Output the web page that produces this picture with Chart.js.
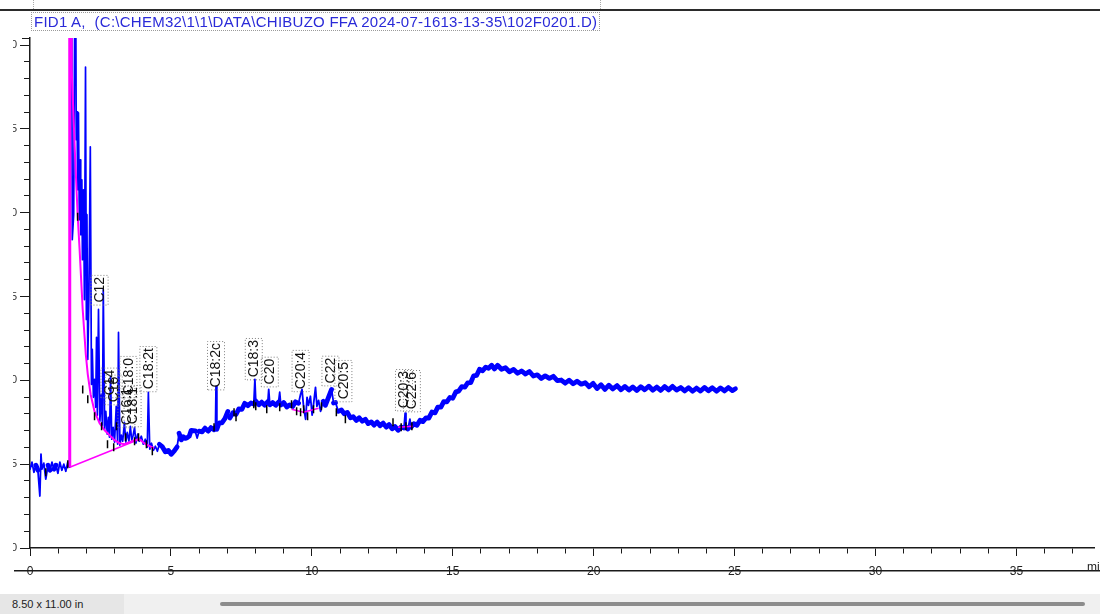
<!DOCTYPE html>
<html>
<head>
<meta charset="utf-8">
<script src="https://cdn.jsdelivr.net/npm/chart.js@4.4.1/dist/chart.umd.min.js"></script>
<style>
  html, body { margin: 0; padding: 0; background: #fff; width: 1100px; height: 614px; overflow: hidden;
    font-family: "Liberation Sans", Arial, sans-serif; }
  #plot { position: absolute; left: 0; top: 0; width: 1100px; height: 594px; }
  #leftMask { position: absolute; left: 0; top: 34px; width: 13px; height: 528px; background: #fff; z-index: 2; }
  #rule { position: absolute; left: 0; top: 9px; width: 1100px; height: 2px; background: #2b2b2b; z-index: 2; }
  .dotTick { position: absolute; top: 0; height: 9px; border-left: 1px dotted #aaa; z-index: 2; }
  #title { position: absolute; left: 31px; top: 12px; height: 17px; line-height: 17px; padding: 0 2px;
    border: 1px dotted #9a9a9a; font-size: 15px; letter-spacing: 0.25px; color: #2a2ad8; white-space: pre; z-index: 2; }
  #status { position: absolute; left: 0; top: 594px; width: 1100px; height: 20px; background: #f0f0f0; z-index: 2; }
  #paper { position: absolute; left: 0; top: 0; width: 124px; height: 20px; line-height: 20px; padding-left: 12px;
    box-sizing: border-box; background: #e6e6e6; font-size: 11px; color: #222; }
  #scroll { position: absolute; left: 220px; top: 8px; width: 865px; height: 4px; background: #8c8c8c; border-radius: 2px; }
</style>
</head>
<body>
<div id="plot"><canvas id="chrom"></canvas></div>
<div id="leftMask"></div>
<div id="rule"></div>
<div class="dotTick" style="left:33px"></div>
<div class="dotTick" style="left:600px"></div>
<div id="title">FID1 A,  (C:\CHEM32\1\1\DATA\CHIBUZO FFA 2024-07-1613-13-35\102F0201.D)</div>
<div id="status"><div id="paper">8.50 x 11.00 in</div><div id="scroll"></div></div>

<script>
// FID signal, [retention time (min), response]
const preSolvent = [
  [0.00,4.70],[0.07,5.12],[0.14,4.52],[0.21,4.94],[0.28,4.64],[0.35,3.10],[0.39,5.60],[0.42,4.70],
  [0.49,5.06],[0.56,4.11],[0.64,4.94],[0.71,4.64],[0.78,5.12],[0.85,4.70],[0.92,4.94],[0.99,4.46],
  [1.06,5.12],[1.13,4.64],[1.20,5.00],[1.27,4.58],[1.34,5.12],[1.38,4.88]
];
const solventCluster = [
  [1.41,4.82],[1.43,40],[1.47,40],[1.50,18.39],[1.55,19.88],[1.61,40],[1.64,24.35],[1.67,26.01],
  [1.69,21.37],[1.72,25.95],[1.75,19.58],[1.78,23.15],[1.80,18.69],[1.84,21.96],[1.86,17.20],[1.90,21.37],
  [1.93,14.82],[1.97,28.69],[2.00,13.63],[2.02,19.88],[2.05,11.25],[2.09,14.82],[2.14,23.93],[2.18,9.76],
  [2.21,11.85],[2.25,8.99],[2.29,10.06],[2.33,8.39],[2.36,12.56],[2.39,7.92],[2.43,14.23],[2.48,7.56],
  [2.53,9.17],[2.57,7.26],[2.60,15.42],[2.65,7.08],[2.69,8.15],[2.74,6.79],[2.78,7.80],[2.82,6.61],
  [2.86,10.24],[2.90,6.49],[2.95,7.20],[3.00,6.31],[3.06,8.45],[3.11,6.19],[3.14,12.86],[3.19,6.13],
  [3.24,6.73],[3.29,6.37],[3.35,7.50],[3.40,6.31],[3.45,6.90],[3.51,6.37],[3.56,7.26],[3.61,6.43],
  [3.66,6.73],[3.71,7.20],[3.76,6.25],[3.82,6.79],[3.88,6.37],[3.95,6.67],[4.02,6.19],[4.09,6.49],
  [4.16,6.01],[4.20,9.29],[4.25,5.89],[4.31,6.25],[4.38,5.83],[4.45,6.07],[4.52,5.77],[4.59,6.19]
];
const midRun = [
  [4.59,6.19],[4.69,6.05],[4.80,5.74],[4.91,5.82],[5.01,5.59],[5.12,5.79],[5.22,6.03],[5.29,6.84],[5.37,6.45],
  [5.44,6.64],[5.51,6.54],[5.58,6.58],[5.65,6.67],[5.72,7.02],[5.79,7.00],[5.86,6.98],[5.93,6.56],
  [6.00,6.97],[6.11,6.93],[6.21,7.15],[6.32,6.97],[6.42,7.18],[6.53,7.05],[6.58,7.19],[6.60,9.64],
  [6.63,7.08],[6.71,7.46],[6.81,7.46],[6.92,7.73],[7.02,8.15],[7.09,7.76],[7.20,8.07],[7.31,7.97],
  [7.41,8.30],[7.52,8.27],[7.62,8.63],[7.73,8.49],[7.84,8.65],[7.94,8.58],[7.98,10.06],[8.01,8.76],
  [8.12,8.54],[8.22,8.70],[8.33,8.52],[8.44,8.73],[8.47,9.46],[8.51,8.54],[8.61,8.68],[8.72,8.51],
  [8.82,8.71],[8.86,9.29],[8.90,8.53],[9.00,8.68],[9.11,8.41],[9.21,8.54],[9.32,8.44],[9.42,8.72],
  [9.53,8.63],[9.60,9.17],[9.65,9.46],[9.71,8.39],[9.78,7.68],[9.83,8.99],[9.88,8.51],[9.95,9.05],
  [10.01,7.92],[10.06,8.57],[10.13,9.58],[10.18,8.45],[10.24,8.81],[10.31,8.15],[10.40,8.75],[10.48,8.51],
  [10.59,8.99],[10.70,9.46],[10.77,8.65],[10.84,8.68],[10.94,8.15],[11.05,8.23],[11.15,8.00],[11.26,8.09],
  [11.37,7.76],[11.47,7.83],[11.58,7.61],[11.68,7.77],[11.79,7.56],[11.90,7.68],[12.00,7.42],[12.11,7.52],
  [12.21,7.33],[12.32,7.51],[12.42,7.29],[12.53,7.45],[12.64,7.21],[12.74,7.36],[12.85,7.11],[12.95,7.25],
  [13.06,7.02],[13.17,7.22],[13.27,7.16],[13.31,8.04],[13.34,7.22],[13.41,7.10],[13.48,7.68],[13.52,7.21]
];
const lateRun = [
  [13.62,7.41],[13.73,7.32],[13.84,7.62],[13.94,7.54],[14.05,7.76],[14.15,7.75],[14.26,8.11],[14.37,8.06],
  [14.47,8.40],[14.58,8.40],[14.68,8.73],[14.79,8.72],[14.90,8.98],[15.00,8.93],[15.11,9.31],[15.21,9.36],
  [15.32,9.63],[15.43,9.60],[15.53,9.85],[15.64,9.87],[15.74,10.27],[15.85,10.30],[15.95,10.66],[16.06,10.57],
  [16.17,10.79],[16.27,10.72],[16.38,10.90],[16.48,10.68],[16.59,10.90],[16.73,10.66],[16.87,10.75],[17.01,10.51],
  [17.16,10.65],[17.30,10.42],[17.44,10.56],[17.58,10.38],[17.72,10.53],[17.86,10.26],[18.00,10.33],[18.14,10.11],
  [18.28,10.27],[18.43,10.12],[18.57,10.24],[18.71,9.98],[18.85,10.02],[18.99,9.83],[19.13,10.01],[19.27,9.79],
  [19.41,9.95],[19.56,9.77],[19.70,9.86],[19.84,9.62],[19.98,9.82],[20.12,9.51],[20.26,9.74],[20.40,9.46],
  [20.54,9.71],[20.68,9.49],[20.83,9.69],[20.97,9.44],[21.11,9.64],[21.25,9.42],[21.39,9.61],[21.53,9.39],
  [21.67,9.62],[21.81,9.44],[21.96,9.65],[22.10,9.41],[22.24,9.60],[22.38,9.40],[22.52,9.63],[22.66,9.43],
  [22.80,9.64],[22.94,9.42],[23.09,9.57],[23.23,9.37],[23.37,9.56],[23.51,9.35],[23.65,9.54],[23.79,9.36],
  [23.93,9.58],[24.07,9.38],[24.21,9.56],[24.36,9.35],[24.50,9.55],[24.64,9.37],[24.78,9.57],[24.92,9.39],
  [25.03,9.50]
];

// integration baselines
const solventEdge = [[1.41,4.82],[1.41,40]];
const tailBase = [
  [1.46,40],[1.48,28.51],[1.59,23.75],[1.69,19.88],[1.76,17.80],[1.87,14.23],[1.98,11.55],[2.05,10.36],
  [2.15,9.17],[2.29,8.15],[2.47,7.44],[2.65,7.02],[2.82,6.73],[3.00,6.43],[3.18,6.25],[3.35,6.19],
  [3.53,6.31],[3.71,6.43],[3.88,6.49],[4.10,6.19],[4.40,5.95]
];
const dropBase = [[1.41,4.82],[3.88,6.49]];
const c20Base = [[9.28,8.27],[9.70,8.10],[10.24,8.33]];
const c22Base = [[13.06,7.20],[13.59,7.26]];

// peak start / end marks
const peakMarks = [
  [0.56,4.52],[1.34,5.00],[1.69,19.76],[1.87,9.46],[2.05,8.87],[2.29,7.86],[2.54,7.26],[2.75,6.19],
  [2.97,6.01],[3.07,7.26],[3.39,6.61],[3.71,6.37],[3.85,6.61],[4.13,6.19],[4.34,5.77],[6.53,7.20],
  [7.24,8.10],[7.31,7.80],[7.94,8.57],[8.01,8.45],[8.40,8.27],[8.86,8.39],[9.28,8.57],[9.46,8.15],
  [9.60,8.10],[9.71,8.27],[9.85,7.86],[10.06,8.27],[10.34,8.45],[10.87,8.10],[11.19,7.68],[12.88,7.50],
  [13.17,7.20],[13.34,7.26],[13.55,7.26]
];

// named peaks
const peakNames = ["C12","C14","C16","C16:1","C18:0","C18:1","C18:2t","C18:2c","C18:3","C20","C20:4","C22","C20:5","C20:3","C22:6"];
const peakTimes = [2.47, 2.82, 2.97, 3.42, 3.49, 3.64, 4.20, 6.60, 7.94, 8.51, 9.60, 10.66, 11.12, 13.27, 13.55];
const peakLabelBase = [14.52, 8.99, 8.57, 7.20, 8.99, 7.26, 9.35, 9.46, 10.06, 9.64, 9.35, 9.70, 8.75, 8.21, 8.15];

// axis layout
const timeMax = 37.77;
const signalMax = 30.42;
const xMajorStep = 5;
const yMajorStep = 5;

const pts = arr => arr.map(p => ({ x: p[0], y: p[1] }));

Chart.defaults.font.family = '"Liberation Sans", Arial, sans-serif';

const baseStyle = { borderColor: '#ff00ff', borderWidth: 2, pointRadius: 0, order: 1 };
const traceStyle = { borderColor: '#0000ff', pointRadius: 0, tension: 0, order: 2,
  borderJoinStyle: 'round', borderCapStyle: 'round' };
// noisy baseline drawn as a band, steep peak flanks drawn thin
const bandWidth = c => {
  const dx = Math.abs(c.p1.x - c.p0.x), dy = Math.abs(c.p1.y - c.p0.y);
  return dy > 3 * dx ? 1.8 : 4.8;
};
// tick marks: full length on major steps, shortened by a dash on minor steps.
// bottom-axis ticks are stroked from the axis outwards, left-axis ticks from the outer end in.
const isMajor = (c, step) => Math.abs(c.tick.value / step - Math.round(c.tick.value / step)) < 1e-6;
const tickGrid = (len, minorLen, step, fromAxis) => ({
  display: true, drawOnChartArea: false, drawTicks: true, tickLength: len,
  tickColor: '#1a1a1a', tickWidth: 1,
  tickBorderDash: c => (isMajor(c, step) ? [] : (fromAxis ? [minorLen, 40] : [0, len - minorLen, minorLen + 2, 40]))
});

const frame = {
  id: 'frame',
  afterDatasetsDraw(chart) {
    const { ctx, chartArea: a, scales: { x, y } } = chart;
    ctx.save();
    // axis end cap
    ctx.fillStyle = '#1a1a1a';
    ctx.fillRect(a.left - 8, Math.round(a.top), 8, 1);
    // lower rule under the time scale
    ctx.fillRect(14, Math.round(a.bottom) + 22, 1100, 1.5);
    // time unit
    ctx.fillStyle = '#222';
    ctx.font = '12px "Liberation Sans", Arial, sans-serif';
    ctx.textBaseline = 'middle';
    ctx.fillText('min', 1087, a.bottom + 20);

    // peak names in dotted boxes
    ctx.font = '14px "Liberation Sans", Arial, sans-serif';
    peakNames.forEach((name, i) => {
      const cx = x.getPixelForValue(peakTimes[i]);
      const by = y.getPixelForValue(peakLabelBase[i]);
      const w = ctx.measureText(name).width;
      ctx.save();
      ctx.translate(cx, by);
      ctx.rotate(-Math.PI / 2);
      ctx.fillStyle = '#111';
      ctx.textBaseline = 'middle';
      ctx.textAlign = 'left';
      ctx.fillText(name, 2, 0.5);
      ctx.setLineDash([1, 2]);
      ctx.strokeStyle = '#808080';
      ctx.lineWidth = 1;
      ctx.strokeRect(-0.5, -8.5, w + 4, 17);
      ctx.restore();
    });
    ctx.restore();
  }
};

new Chart(document.getElementById('chrom'), {
  type: 'line',
  data: {
    datasets: [
      { data: pts(peakMarks), showLine: false, pointStyle: 'line', pointRotation: 90, pointRadius: 4,
        pointBorderColor: '#000', pointBorderWidth: 1.5, borderColor: '#000', order: 0 },
      { ...baseStyle, data: pts(solventEdge), borderWidth: 3 },
      { ...baseStyle, data: pts(tailBase) },
      { ...baseStyle, data: pts(dropBase), borderWidth: 1.5 },
      { ...baseStyle, data: pts(c20Base), borderWidth: 1.5 },
      { ...baseStyle, data: pts(c22Base), borderWidth: 1.5 },
      { ...traceStyle, data: pts(preSolvent), borderWidth: 3, segment: { borderWidth: bandWidth } },
      { ...traceStyle, data: pts([preSolvent[preSolvent.length - 1], ...solventCluster]), borderWidth: 1.7 },
      { ...traceStyle, data: pts([...midRun, ...lateRun]), borderWidth: 4.8, segment: { borderWidth: bandWidth } }
    ]
  },
  options: {
    responsive: true,
    maintainAspectRatio: false,
    animation: false,
    events: [],
    layout: { padding: { top: 38, right: 0, bottom: 0, left: 0 } },
    plugins: { legend: { display: false }, tooltip: { enabled: false } },
    scales: {
      x: {
        type: 'linear', min: 0, max: timeMax,
        grid: tickGrid(8, 5, xMajorStep, true),
        border: { display: true, color: '#1a1a1a', width: 1.5 },
        ticks: {
          stepSize: 1, autoSkip: false, includeBounds: false, maxRotation: 0, padding: 8,
          color: '#222', font: { size: 12 },
          callback: v => (v % xMajorStep === 0 ? String(v) : '')
        },
        afterFit: s => { s.height = 46; }
      },
      y: {
        type: 'linear', min: 0, max: signalMax,
        grid: tickGrid(10, 6, yMajorStep, false),
        border: { display: true, color: '#1a1a1a', width: 1.5 },
        ticks: {
          stepSize: 1, autoSkip: false, includeBounds: false, padding: 3,
          color: '#333', font: { size: 11 },
          callback: v => (v % yMajorStep === 0 ? String(v) : '')
        },
        afterFit: s => { s.width = 30; }
      }
    }
  },
  plugins: [frame]
});
</script>
</body>
</html>
